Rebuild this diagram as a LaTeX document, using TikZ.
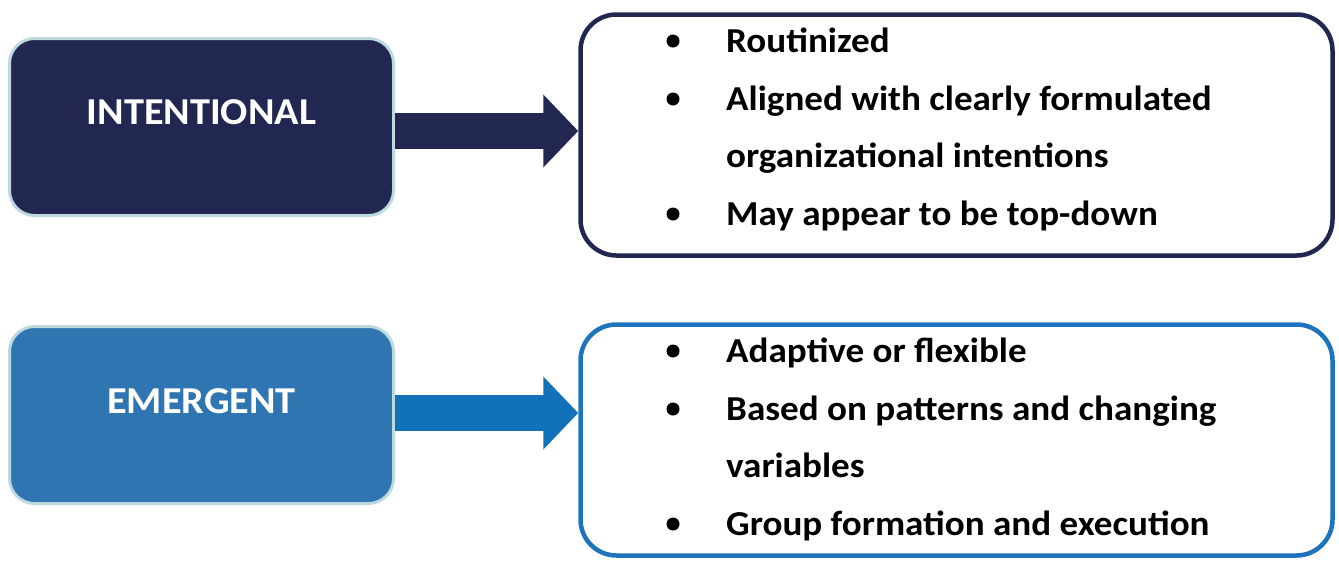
\documentclass[tikz,border=0pt]{standalone}
\usepackage{fontspec}
\setmainfont{Carlito}[FakeStretch=1.06]
\usetikzlibrary{positioning,arrows.meta}
\definecolor{navy}{HTML}{222751}
\definecolor{steel}{HTML}{2E75B2}
\definecolor{arrowblue}{HTML}{1172BA}
\definecolor{paleedge}{HTML}{BCD9E0}
\definecolor{listblue}{HTML}{1E74BC}

\begin{document}
\begin{tikzpicture}[x=1pt, y=-1pt,
    kind/.style={rectangle,rounded corners=25pt,draw=paleedge,line width=3pt,
                 minimum width=384pt,minimum height=177pt},
    listbox/.style={rectangle,rounded corners=36pt,fill=white,line width=4.5pt,
                    minimum width=752pt},
    head/.style={font=\fontsize{38}{44}\selectfont\bfseries,text=white},
    item/.style={font=\fontsize{35}{42}\selectfont\bfseries,anchor=base west,inner sep=0pt},
    dot/.style={circle,fill=black,minimum size=13pt,inner sep=0pt},
    fat/.style={line width=36pt,-{Triangle[length=35pt,width=71pt]}}]

\useasboundingbox (0,0) rectangle (1339,560);

% left boxes
\node[kind,fill=navy] (box1) at (201.5,127) {};
\node[kind,fill=steel] (box2) [below=108pt of box1] {};
\node[head] (name1) at ([yshift=15pt]box1.center) {INTENTIONAL};
\node[head] (name2) at ([yshift=14pt]box2.center) {EMERGENT};

% right boxes
\node[listbox,draw=navy,minimum height=241pt] (list1) at (956.5,135) {};
\node[listbox,draw=listblue,minimum height=231pt] (list2) at (956.5,440) {};

% arrows
\draw[fat,navy] ([yshift=-4pt]box1.east) -- ([yshift=-4pt]box1.east -| list1.west);
\draw[fat,arrowblue] ([yshift=2pt]box2.east) -- ([yshift=2pt]box2.east -| list2.west);

% items
\foreach \yy/\txt [count=\i] in {52/Routinized, 110/Aligned with clearly formulated,
    167/organizational intentions, 225/May appear to be top-down,
    362/Adaptive or flexible, 420/Based on patterns and changing,
    477/variables, 535/Group formation and execution}
  \node[item] (line\i) at (726,\yy) {\txt};

\foreach \yy [count=\i] in {52,110,225,362,420,535}
  \node[dot] (dot\i) at (673,\yy-11) {};
\end{tikzpicture}
\end{document}
